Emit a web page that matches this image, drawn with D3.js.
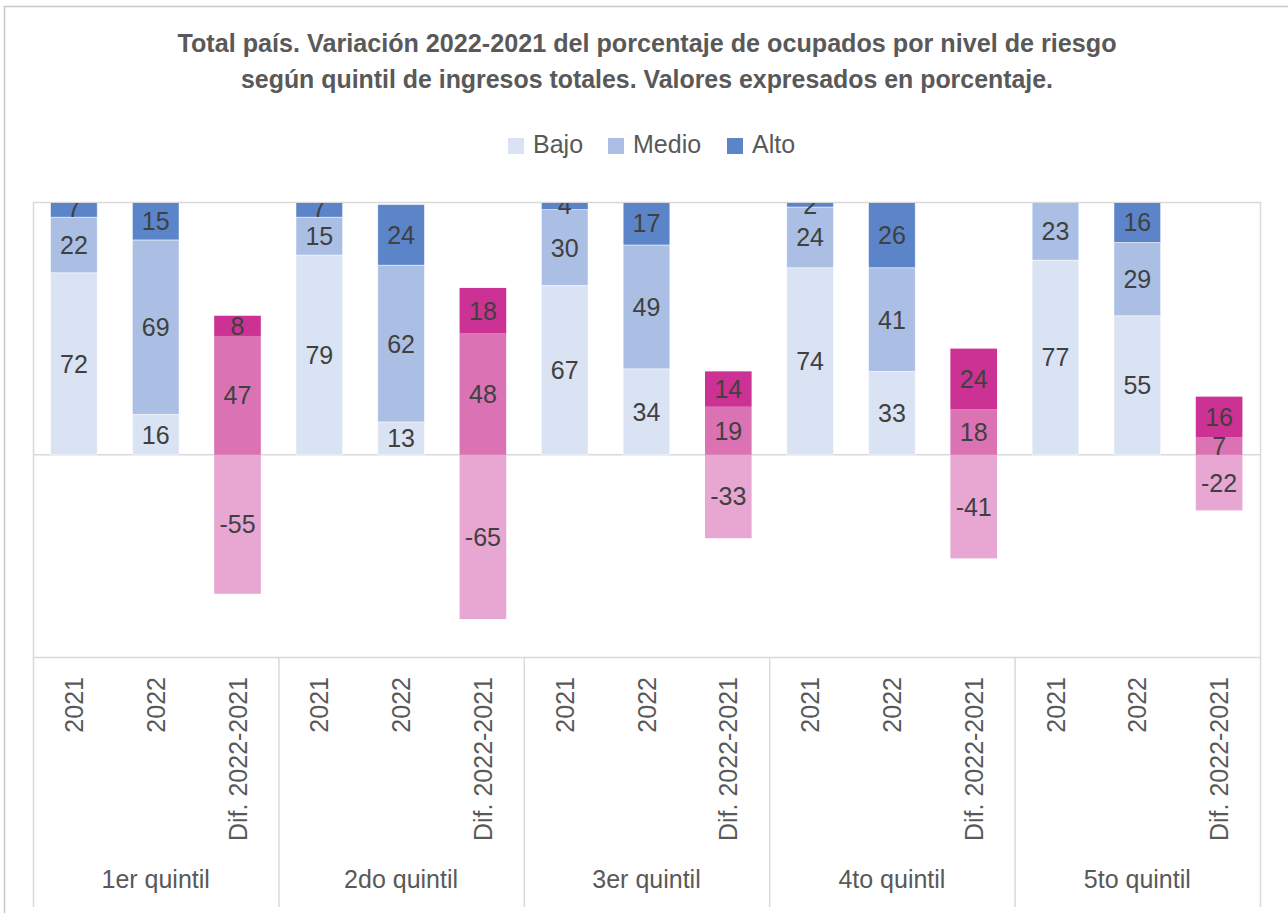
<!DOCTYPE html>
<html>
<head>
<meta charset="utf-8">
<title>Variación 2022-2021 por quintil</title>
<script src="https://cdn.jsdelivr.net/npm/d3@7"></script>
<style>
	body { margin: 0; background: #fff; }
	text { font-family: "Liberation Sans", Arial, Helvetica, sans-serif; }
</style>
</head>
<body>
<svg width="1288" height="913"></svg>
<script>
// datos
var quintiles = ["1er quintil", "2do quintil", "3er quintil", "4to quintil", "5to quintil"];
var periodos = ["2021", "2022", "Dif. 2022-2021"];
var keys = ["Bajo", "Medio", "Alto"];

// un valor por barra: 5 quintiles x 3 periodos
var bajo  = [72, 16, -55,  79, 13, -65,  67, 34, -33,  74, 33, -41,  77, 55, -22];
var medio = [22, 69, 47,   15, 62, 48,   30, 49, 19,   24, 41, 18,   23, 29, 7];
var alto  = [7, 15, 8,     7, 24, 18,    4, 17, 14,    2, 26, 24,    0, 16, 16];

var colores = { Bajo: "#dae3f3", Medio: "#abbfe5", Alto: "#5b84c9" };
var coloresDif = { Bajo: "#e8a7d2", Medio: "#db72b4", Alto: "#cb3294" };

var rows = [];
quintiles.forEach(function(q, i) {
	periodos.forEach(function(p, j) {
		var k = i * 3 + j;
		rows.push({ id: q + "|" + p, quintil: q, periodo: p, Bajo: bajo[k], Medio: medio[k], Alto: alto[k] });
	});
});

var svg = d3.select("svg");
var plot = { left: 33, right: 1260, top: 202, bottom: 657 };

// marco exterior del gráfico
svg.append("path")
	.attr("d", "M4.5,913V6.5H1288")
	.attr("fill", "none")
	.attr("stroke", "#c8c8c8")
	.attr("stroke-width", 1.5);

// título
var titulo = ["Total país. Variación 2022-2021 del porcentaje de ocupados por nivel de riesgo",
	"según quintil de ingresos totales. Valores expresados en porcentaje."];
var anchos = [939, 812];
svg.selectAll(".titulo").data(titulo).enter().append("text")
	.attr("class", "titulo")
	.attr("x", 647)
	.attr("y", function(d, i) { return 52 + i * 36; })
	.attr("text-anchor", "middle")
	.attr("font-size", 25.5)
	.attr("font-weight", "bold")
	.attr("fill", "#595959")
	.attr("textLength", function(d, i) { return anchos[i]; })
	.attr("lengthAdjust", "spacingAndGlyphs")
	.text(function(d) { return d; });

// leyenda
var legX = [508, 608, 727];
var leg = svg.selectAll(".leg").data(keys).enter().append("g")
	.attr("transform", function(d, i) { return "translate(" + legX[i] + ",138)"; });
leg.append("rect").attr("width", 16).attr("height", 16).attr("fill", function(d) { return colores[d]; });
leg.append("text").attr("x", 25).attr("y", 15).attr("font-size", 25).attr("fill", "#595959")
	.text(function(d) { return d; });

var x = d3.scaleBand()
	.domain(rows.map(function(d) { return d.id; }))
	.range([plot.left, plot.right])
	.paddingInner(0.43)
	.paddingOuter(0.215);

var y = d3.scaleLinear()
	.domain([-80, 100])
	.range([plot.bottom, plot.top]);

var series = d3.stack().keys(keys).offset(d3.stackOffsetDiverging)(rows);

// caja del área de trazado y línea del cero
svg.append("rect")
	.attr("x", plot.left + 0.5).attr("y", plot.top + 0.5)
	.attr("width", plot.right - plot.left).attr("height", plot.bottom - plot.top)
	.attr("fill", "none").attr("stroke", "#d9d9d9").attr("stroke-width", 1.5);
svg.append("line")
	.attr("x1", plot.left).attr("x2", plot.right)
	.attr("y1", y(0)).attr("y2", y(0))
	.attr("stroke", "#d9d9d9").attr("stroke-width", 1.5);

svg.append("clipPath").attr("id", "clip").append("rect")
	.attr("x", plot.left).attr("y", plot.top + 1)
	.attr("width", plot.right - plot.left).attr("height", plot.bottom - plot.top);

var chart = svg.append("g").attr("clip-path", "url(#clip)");

var esDif = function(d) { return d.data.periodo === periodos[2]; };

series.forEach(function(s) {
	var g = chart.append("g");
	g.selectAll("rect").data(s).enter().append("rect")
		.attr("x", function(d) { return x(d.data.id); })
		.attr("width", x.bandwidth())
		.attr("y", function(d) { return y(d[1]); })
		.attr("height", function(d) { return y(d[0]) - y(d[1]); })
		.attr("fill", function(d) { return esDif(d) ? coloresDif[s.key] : colores[s.key]; })
		.attr("stroke", function(d) { return esDif(d) ? "none" : "#fff"; })
		.attr("stroke-opacity", 0.6)
		.attr("stroke-width", 0.8);
});

series.forEach(function(s) {
	chart.append("g").selectAll("text").data(s.filter(function(d) { return d.data[s.key] !== 0; }))
		.enter().append("text")
		.attr("x", function(d) { return x(d.data.id) + x.bandwidth() / 2; })
		.attr("y", function(d) { return y((d[0] + d[1]) / 2); })
		.attr("dy", "0.36em")
		.attr("text-anchor", "middle")
		.attr("font-size", 25)
		.attr("fill", "#404040")
		.text(function(d) { return d.data[s.key]; });
});

// eje de categorías en dos niveles
var axisG = svg.append("g");
var qx = d3.scaleBand().domain(quintiles).range([plot.left, plot.right]);

axisG.selectAll(".sep").data(d3.range(quintiles.length + 1)).enter().append("line")
	.attr("x1", function(i) { return plot.left + i * qx.bandwidth() + 0.5; })
	.attr("x2", function(i) { return plot.left + i * qx.bandwidth() + 0.5; })
	.attr("y1", plot.bottom).attr("y2", 907)
	.attr("stroke", "#d9d9d9").attr("stroke-width", 1.5);

axisG.selectAll(".per").data(rows).enter().append("text")
	.attr("transform", function(d) {
		return "translate(" + (x(d.id) + x.bandwidth() / 2) + ",677) rotate(-90)";
	})
	.attr("dy", "0.36em")
	.attr("text-anchor", "end")
	.attr("font-size", 25)
	.attr("fill", "#595959")
	.text(function(d) { return d.periodo; });

axisG.selectAll(".qui").data(quintiles).enter().append("text")
	.attr("x", function(d) { return qx(d) + qx.bandwidth() / 2; })
	.attr("y", 888)
	.attr("text-anchor", "middle")
	.attr("font-size", 25)
	.attr("fill", "#595959")
	.text(function(d) { return d; });
</script>
</body>
</html>
